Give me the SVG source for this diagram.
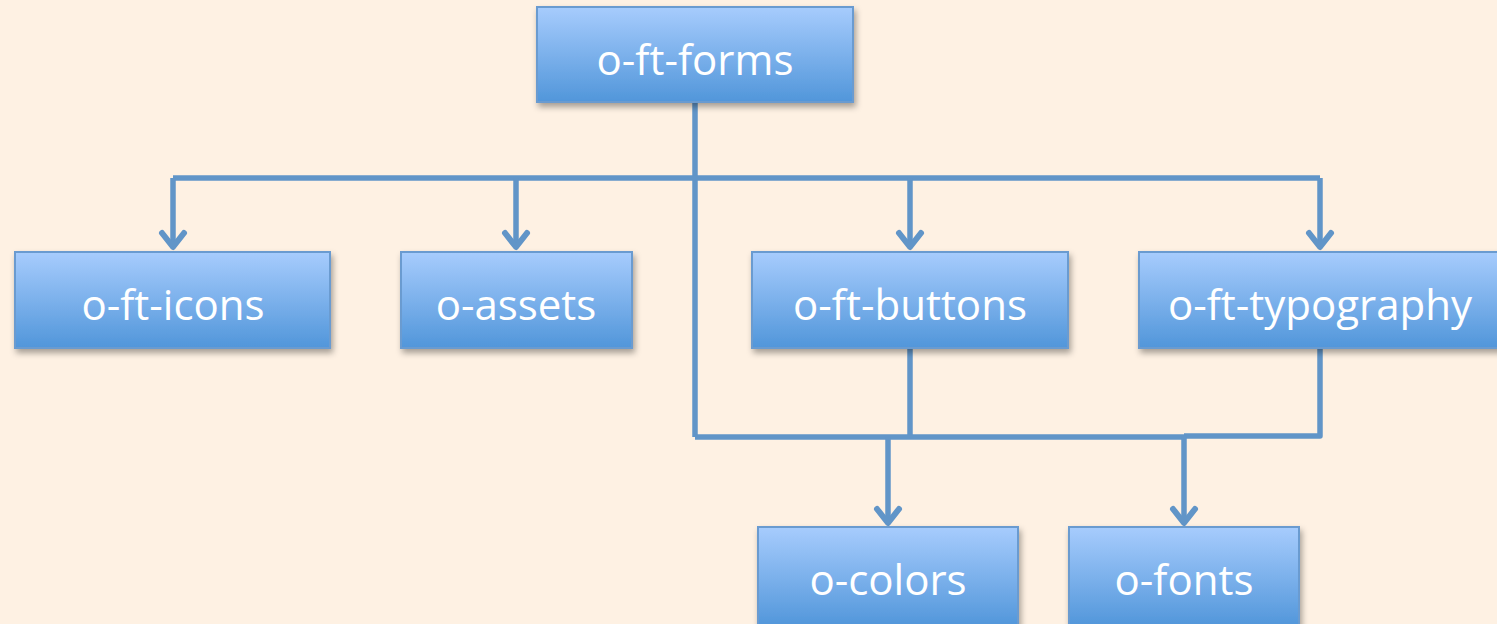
<svg xmlns="http://www.w3.org/2000/svg" width="1497" height="624" viewBox="0 0 1497 624">
<style>
.box{fill:url(#g);stroke:#6a9bd0;stroke-width:2;filter:url(#sh)}
.lbl{font-family:"Open Sans","Liberation Sans",sans-serif;font-size:42px;fill:#fff;text-anchor:middle}
.con{fill:none;stroke:#6195c8;stroke-width:5.5;stroke-linejoin:round;stroke-linecap:butt}
</style>
<defs>
<linearGradient id="g" x1="0" y1="0" x2="0" y2="1">
<stop offset="0" stop-color="#a7ccfd"/>
<stop offset="1" stop-color="#5196da"/>
</linearGradient>
<filter id="sh" x="-10%" y="-10%" width="120%" height="130%">
<feDropShadow dx="2" dy="4" stdDeviation="3" flood-color="#000" flood-opacity="0.35"/>
</filter>
<marker id="ar" markerUnits="userSpaceOnUse" viewBox="-20 -16 24 32" refX="0" refY="0" markerWidth="24" markerHeight="32" orient="auto">
<path d="M-14,-11 L0,0 L-14,11" fill="none" stroke="#6195c8" stroke-width="6" stroke-linecap="round" stroke-linejoin="round"/>
</marker>
</defs>
<rect width="1497" height="624" fill="#fef1e3"/>
<g id="connectors">
<path class="con" d="M695,102 V437"/>
<path class="con" d="M173,178 H1320"/>
<path class="con" d="M173,178 V247" marker-end="url(#ar)"/>
<path class="con" d="M516,178 V247" marker-end="url(#ar)"/>
<path class="con" d="M910,178 V247" marker-end="url(#ar)"/>
<path class="con" d="M1320,178 V247" marker-end="url(#ar)"/>
<path class="con" d="M910,348 V437"/>
<path class="con" d="M1320,348 V436 H1184"/>
<path class="con" d="M695,437 H1184"/>
<path class="con" d="M888,437 V523" marker-end="url(#ar)"/>
<path class="con" d="M1184,436 V523" marker-end="url(#ar)"/>
</g>
<g id="node-forms"><rect class="box" x="537" y="7" width="316" height="95"/><text class="lbl" x="695" y="75">o-ft-forms</text></g>
<g id="node-icons"><rect class="box" x="15" y="252" width="315" height="96"/><text class="lbl" x="173" y="320">o-ft-icons</text></g>
<g id="node-assets"><rect class="box" x="401" y="252" width="231" height="96"/><text class="lbl" x="516" y="320">o-assets</text></g>
<g id="node-buttons"><rect class="box" x="752" y="252" width="316" height="96"/><text class="lbl" x="910" y="320">o-ft-buttons</text></g>
<g id="node-typography"><rect class="box" x="1139" y="252" width="362" height="96"/><text class="lbl" x="1320" y="320">o-ft-typography</text></g>
<g id="node-colors"><rect class="box" x="758" y="527" width="260" height="100"/><text class="lbl" x="888" y="595">o-colors</text></g>
<g id="node-fonts"><rect class="box" x="1069" y="527" width="230" height="100"/><text class="lbl" x="1184" y="595">o-fonts</text></g>
</svg>
